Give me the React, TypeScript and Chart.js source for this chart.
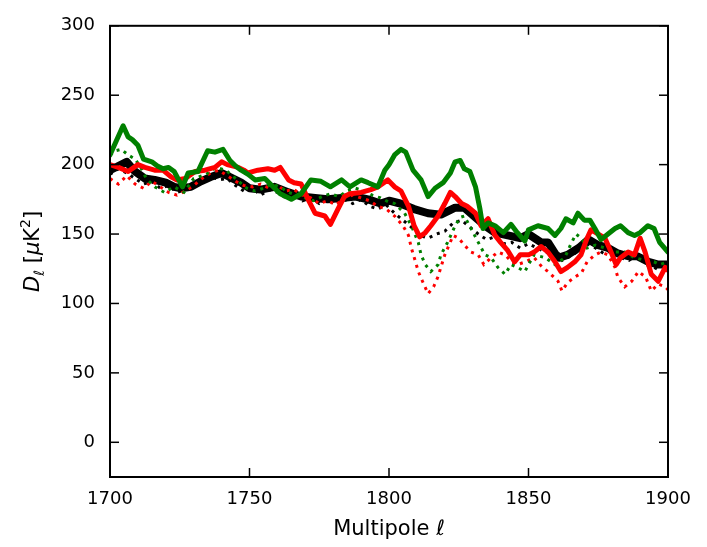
import React, { useEffect, useRef } from 'react';
import { Chart, registerables } from 'chart.js';
Chart.register(...registerables);

const xTicks = [1700, 1750, 1800, 1850, 1900];
const yTicks = [0, 50, 100, 150, 200, 250, 300];

// Green solid
const gSolidL = [1700, 1702, 1704.7, 1706.5, 1708, 1710, 1712, 1715, 1717, 1719, 1721, 1723, 1726, 1728, 1731.5, 1735, 1737.6, 1740.5, 1743, 1745, 1747, 1749.5, 1752, 1755.5, 1758, 1761, 1765, 1768.5, 1772, 1775.6, 1779, 1783, 1786, 1790, 1792.5, 1796, 1798.5, 1800, 1802, 1804.3, 1806, 1808.6, 1811.5, 1814, 1816.5, 1819.4, 1822, 1823.7, 1825.5, 1827, 1829, 1831, 1832.6, 1833.7, 1835.5, 1838, 1841, 1843.7, 1846, 1848.7, 1850, 1853.4, 1857, 1859.5, 1861.6, 1863.4, 1866, 1867.7, 1870, 1872, 1873.8, 1876, 1878.5, 1881, 1883, 1885.7, 1888, 1890, 1892.8, 1895, 1897, 1900];
const gSolidD = [207, 216, 228, 220, 218, 214, 204, 202, 199, 197, 198, 195, 184, 194, 195, 210, 209, 211, 203, 199, 196, 193, 189, 190, 185, 179, 175, 179, 189, 188, 184, 189, 184, 189, 187, 184, 196, 200, 207, 211, 209, 196, 189, 177, 183, 187, 194, 202, 203, 197, 195, 184, 168, 154, 158, 156, 151, 157, 151, 145, 153, 156, 154, 149, 154, 161, 158, 165, 160, 160, 154, 146, 150, 154, 156, 151, 149, 151, 156, 154, 144, 137];

// Red solid
const rSolidL = [1700, 1703, 1706.5, 1710, 1712.5, 1716, 1719, 1722, 1724, 1727, 1730.5, 1734, 1737.6, 1740, 1742, 1746, 1748, 1749.5, 1753, 1756.6, 1759, 1761, 1764, 1766, 1768.5, 1771, 1773.5, 1777, 1779, 1781.7, 1784, 1786, 1790, 1793.5, 1796, 1799.6, 1802, 1804.3, 1807, 1809, 1811, 1813, 1815, 1817.6, 1820, 1822, 1823.7, 1826, 1828, 1831, 1833, 1835.5, 1838, 1840, 1842.6, 1845, 1847, 1850, 1852, 1854.5, 1857, 1859.5, 1861.6, 1864, 1866.6, 1868.8, 1871, 1872.4, 1875, 1877.4, 1879.6, 1881.4, 1883, 1885.7, 1888, 1890, 1891.8, 1894, 1896.5, 1899, 1900];
const rSolidD = [200, 198, 195, 200, 198, 196, 196, 191, 189, 190, 195, 196, 198, 202, 200, 198, 196, 194, 196, 197, 196, 198, 189, 187, 186, 175, 165, 163, 157, 168, 177, 179, 180, 182, 184, 189, 184, 181, 170, 156, 148, 151, 156, 163, 172, 180, 177, 172, 170, 165, 156, 161, 149, 144, 138, 130, 135, 135, 137, 141, 137, 130, 123, 126, 130, 135, 147, 153, 150, 147, 137, 128, 133, 137, 135, 147, 137, 121, 116, 126, 124];

// Black solid
const kSolidL = [1700, 1703, 1706, 1709, 1712.5, 1716, 1720, 1723, 1725.5, 1729, 1732.6, 1736, 1740, 1743, 1747, 1750, 1754, 1759, 1764, 1768.5, 1773.5, 1778, 1783, 1788, 1792.5, 1797, 1800, 1804, 1809, 1814, 1818.6, 1823.7, 1827, 1831, 1834.4, 1838, 1842.6, 1847, 1850, 1854.5, 1857, 1859.5, 1861, 1864, 1868, 1871.5, 1875, 1878.5, 1882, 1885.7, 1889, 1893, 1896.5, 1900];
const kSolidD = [196, 199, 202, 195, 190, 189, 187, 184, 183, 184, 188, 191, 194, 191, 187, 183, 182, 184, 180, 177, 176, 175, 176, 177, 175, 172, 174, 172, 168, 165, 164, 169, 169, 162, 156, 151, 149, 147, 150, 144, 144, 136, 133, 135, 140, 146, 142, 140, 136, 134, 134, 130, 128, 128];

// Black dotted
const kDotL = [1700, 1703, 1706, 1709, 1712, 1715, 1718, 1721, 1724, 1727, 1730, 1733, 1736, 1739, 1742, 1745, 1748, 1751, 1754, 1757, 1760, 1763, 1766, 1769, 1772, 1775, 1778, 1781, 1784, 1787, 1790, 1793, 1796, 1799, 1802, 1805, 1808, 1811, 1814, 1817, 1820, 1823, 1826, 1829, 1832, 1835, 1838, 1841, 1844, 1847, 1850, 1853, 1856, 1859, 1862, 1865, 1868, 1871, 1874, 1877, 1880, 1883, 1886, 1889, 1892, 1895, 1898, 1900];
const kDotD = [193, 197, 194, 190, 186, 188, 183, 185, 180, 182, 185, 189, 192, 189, 190, 185, 181, 183, 178, 182, 180, 176, 179, 174, 176, 172, 175, 171, 175, 172, 175, 170, 168, 171, 165, 160, 155, 149, 147, 150, 152, 158, 160, 155, 150, 146, 148, 143, 144, 140, 143, 140, 137, 135, 131, 134, 138, 143, 140, 136, 138, 133, 131, 135, 128, 126, 123, 125];

// Red dotted
const rDotL = [1700, 1703, 1706, 1709, 1712, 1715, 1718, 1721, 1724, 1727, 1730, 1733, 1736, 1739, 1742, 1745, 1748, 1751, 1754, 1757, 1760, 1763, 1766, 1769, 1772, 1775, 1778, 1781, 1784, 1787, 1790, 1793, 1796, 1799, 1802, 1805, 1807, 1808, 1809.5, 1810.5, 1812, 1814, 1816, 1817.5, 1818.6, 1820, 1821.5, 1823, 1825, 1827, 1829.4, 1832, 1834, 1836.6, 1839, 1841.6, 1844, 1846, 1849, 1852, 1855, 1857, 1860.6, 1862, 1864, 1866.6, 1869, 1871, 1873.8, 1876, 1878.5, 1881, 1882, 1884.5, 1887, 1889.4, 1892, 1894, 1896.5, 1899, 1900];
const rDotD = [190, 186, 192, 186, 183, 188, 184, 180, 178, 181, 185, 190, 194, 196, 192, 188, 185, 184, 186, 183, 185, 181, 182, 178, 176, 172, 174, 171, 176, 178, 176, 174, 170, 168, 163, 156, 149, 140, 130, 123, 116, 107, 112, 119, 126, 135, 142, 149, 147, 142, 137, 135, 128, 133, 137, 135, 130, 128, 130, 133, 126, 123, 116, 109, 115, 119, 122, 130, 135, 137, 135, 126, 119, 112, 116, 123, 119, 109, 114, 112, 110];

// Green dotted
const gDotL = [1700, 1702, 1704, 1706.5, 1709, 1711, 1713, 1716, 1719.5, 1723, 1726.5, 1730, 1734.5, 1738, 1741.5, 1745, 1749, 1752, 1755, 1758, 1761, 1764, 1767, 1770, 1773, 1776, 1779, 1782, 1785, 1788, 1791, 1794, 1797, 1800, 1802, 1805.6, 1808, 1810.5, 1811.5, 1813, 1815, 1817.6, 1818.6, 1821, 1823.7, 1825.5, 1827, 1829.4, 1832, 1834.4, 1836.6, 1839, 1841.6, 1843.7, 1846, 1848.7, 1850, 1852, 1856, 1859.5, 1863, 1865, 1867, 1869, 1871, 1874, 1877.4, 1881, 1884.5, 1888, 1891.8, 1895, 1897, 1900];
const gDotD = [207, 210, 211, 207, 204, 198, 190, 184, 180, 184, 180, 190, 193, 198, 196, 190, 183, 181, 183, 186, 184, 180, 178, 176, 174, 177, 179, 177, 181, 183, 181, 178, 176, 173, 172, 165, 156, 144, 135, 128, 123, 128, 135, 144, 156, 162, 163, 154, 144, 135, 133, 126, 121, 128, 126, 123, 128, 135, 133, 128, 133, 142, 150, 147, 140, 142, 140, 137, 137, 133, 131, 130, 128, 130];

const pts = (ls: number[], ds: number[]) => ls.map((l, i) => ({ x: l, y: ds[i] }));

const framePlugin = {
  id: 'frameTicksTitles',
  afterDraw(chart: any) {
    const { ctx, chartArea: a, scales } = chart;
    ctx.save();
    ctx.strokeStyle = '#000';
    ctx.lineWidth = 2;
    ctx.strokeRect(a.left, a.top, a.right - a.left, a.bottom - a.top);
    ctx.lineWidth = 1.5;
    const L = 9;
    const seg = (x1: number, y1: number, x2: number, y2: number) => {
      ctx.beginPath();
      ctx.moveTo(x1, y1);
      ctx.lineTo(x2, y2);
      ctx.stroke();
    };
    for (const v of xTicks) {
      const px = scales.x.getPixelForValue(v);
      seg(px, a.bottom, px, a.bottom - L);
      seg(px, a.top, px, a.top + L);
    }
    for (const v of yTicks) {
      const py = scales.y.getPixelForValue(v);
      seg(a.left, py, a.left + L, py);
      seg(a.right, py, a.right - L, py);
    }
    ctx.fillStyle = '#000';
    ctx.font = '21px "DejaVu Sans"';
    ctx.textAlign = 'center';
    ctx.textBaseline = 'alphabetic';
    ctx.fillText('Multipole ℓ', (a.left + a.right) / 2, 535);

    // y title: D_ℓ [μK^2]
    ctx.translate(39, (a.top + a.bottom) / 2);
    ctx.rotate(-Math.PI / 2);
    ctx.textAlign = 'left';
    const parts = [
      { t: 'D', f: 'italic 21px "DejaVu Sans"', dy: 0 },
      { t: 'ℓ', f: '14px "DejaVu Sans"', dy: 5 },
      { t: ' [', f: '21px "DejaVu Sans"', dy: 0 },
      { t: 'μ', f: 'italic 21px "DejaVu Sans"', dy: 0 },
      { t: 'K', f: '21px "DejaVu Sans"', dy: 0 },
      { t: '2', f: '14px "DejaVu Sans"', dy: -9 },
      { t: ']', f: '21px "DejaVu Sans"', dy: 0 },
    ];
    let total = 0;
    for (const p of parts) {
      ctx.font = p.f;
      total += ctx.measureText(p.t).width;
    }
    let x = -total / 2;
    for (const p of parts) {
      ctx.font = p.f;
      ctx.fillText(p.t, x, p.dy);
      x += ctx.measureText(p.t).width;
    }
    ctx.restore();
  },
};

export default function App() {
  const ref = useRef<HTMLCanvasElement | null>(null);
  useEffect(() => {
    document.body.style.margin = '0';
    const canvas = ref.current!;
    const solid = (label: string, ls: number[], ds: number[], color: string, w: number, order: number) => ({
      label, data: pts(ls, ds), borderColor: color, backgroundColor: color, borderWidth: w,
      pointRadius: 0, tension: 0, fill: false, order, borderJoinStyle: 'round', borderCapStyle: 'round',
    });
    const dotted = (label: string, ls: number[], ds: number[], color: string, order: number) => ({
      label, data: pts(ls, ds), borderColor: color, backgroundColor: color, borderWidth: 3,
      pointRadius: 0, tension: 0, fill: false, order, borderDash: [3, 5], borderCapStyle: 'butt',
    });
    const chart = new Chart(canvas, {
      type: 'line',
      data: {
        datasets: [
          solid('black', kSolidL, kSolidD, '#000000', 8, 6) as any,
          dotted('black dotted', kDotL, kDotD, '#000000', 5) as any,
          dotted('red dotted', rDotL, rDotD, '#ff0000', 4) as any,
          dotted('green dotted', gDotL, gDotD, '#008000', 3) as any,
          solid('red', rSolidL, rSolidD, '#ff0000', 5, 2) as any,
          solid('green', gSolidL, gSolidD, '#008000', 5, 1) as any,
        ],
      },
      options: {
        animation: false,
        responsive: false,
        maintainAspectRatio: false,
        layout: { padding: { top: 16, right: 39, bottom: 0, left: 0 } },
        plugins: { legend: { display: false }, tooltip: { enabled: false } },
        scales: {
          x: {
            type: 'linear', min: 1700, max: 1900,
            grid: { display: false, drawTicks: false },
            border: { display: false },
            ticks: {
              stepSize: 50, padding: 12, color: '#000', font: { family: 'DejaVu Sans', size: 18 }, maxRotation: 0,
              callback: (v: any) => String(v),
            },
            afterFit: (s: any) => { s.height = 70; },
          },
          y: {
            type: 'linear', min: -25, max: 300,
            grid: { display: false, drawTicks: false },
            border: { display: false },
            ticks: {
              stepSize: 50, includeBounds: false, padding: 15, color: '#000', font: { family: 'DejaVu Sans', size: 18 },
              callback: (v: any) => String(v),
            },
            afterFit: (s: any) => { s.width = 110; },
          },
        },
      },
      plugins: [framePlugin],
    });
    return () => chart.destroy();
  }, []);
  return <canvas ref={ref} width={707} height={547} style={{ display: 'block' }} />;
}
